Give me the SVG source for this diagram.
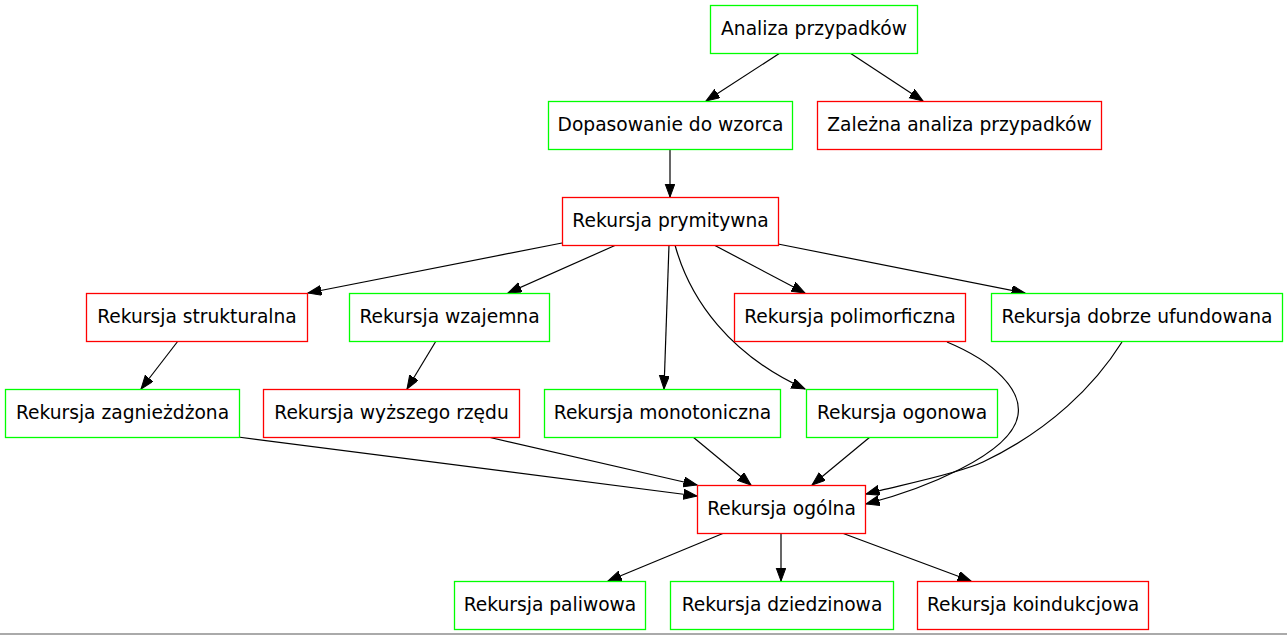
<svg xmlns="http://www.w3.org/2000/svg" width="1287" height="635" viewBox="0 0 1287 635">
<style>
.n rect{fill:#ffffff;stroke-width:1.3}
.g rect{stroke:#00ff00}
.r rect{stroke:#ff0000}
.n text{font-family:"DejaVu Sans",sans-serif;font-size:18.67px;fill:#000;text-anchor:middle}
.e path{fill:none;stroke:#000;stroke-width:1.2;marker-end:url(#ah)}
</style>
<defs>
<marker id="ah" markerUnits="userSpaceOnUse" markerWidth="15" markerHeight="11" refX="13.5" refY="5" orient="auto">
<path d="M0,0 L13.5,5 L0,10 z" fill="#000" stroke="#000" stroke-width="1"/>
</marker>
</defs>
<rect width="1287" height="635" fill="#ffffff"/>
<g id="edges" class="e">
<path d="M780,53 L706,101"/>
<path d="M850,53 L923,101"/>
<path d="M670,149 L670,197"/>
<path d="M562,243 L308,293"/>
<path d="M616,245 L508,293"/>
<path d="M669,245 L664,389"/>
<path d="M675,245 C690,300 730,355 805,389"/>
<path d="M714,245 L805,293"/>
<path d="M778,244 L1025,293"/>
<path d="M178,341 L141,389"/>
<path d="M436,341 L407,389"/>
<path d="M238,437 L697,496"/>
<path d="M488,437 L697,485"/>
<path d="M693,437 L751,485"/>
<path d="M870,437 L812,485"/>
<path d="M947,342 C995,362 1022,390 1018,415 C1012,455 920,490 866,504"/>
<path d="M1122,342 C1095,385 1050,430 983,462 C955,475 895,486 866,494"/>
<path d="M724,533 L608,581"/>
<path d="M781,533 L781,581"/>
<path d="M842,533 L971,581"/>
</g>
<g id="analiza" class="n g"><rect x="710.5" y="5.5" width="207" height="48"/><text x="814" y="34.5">Analiza przypadków</text></g>
<g id="dopasowanie" class="n g"><rect x="548.5" y="101.5" width="244" height="48"/><text x="670.5" y="130.5">Dopasowanie do wzorca</text></g>
<g id="zalezna" class="n r"><rect x="817.5" y="101.5" width="284" height="48"/><text x="959.5" y="130.5">Zależna analiza przypadków</text></g>
<g id="prymitywna" class="n r"><rect x="562.5" y="197.5" width="216" height="48"/><text x="670.5" y="226.5">Rekursja prymitywna</text></g>
<g id="strukturalna" class="n r"><rect x="86.5" y="293.5" width="221" height="48"/><text x="197" y="322.5">Rekursja strukturalna</text></g>
<g id="wzajemna" class="n g"><rect x="349.5" y="293.5" width="200" height="48"/><text x="449.5" y="322.5">Rekursja wzajemna</text></g>
<g id="polimorficzna" class="n r"><rect x="734.5" y="293.5" width="231" height="48"/><text x="850" y="322.5">Rekursja polimorficzna</text></g>
<g id="dobrze" class="n g"><rect x="991.5" y="293.5" width="291" height="48"/><text x="1137" y="322.5">Rekursja dobrze ufundowana</text></g>
<g id="zagniezdzona" class="n g"><rect x="5.5" y="389.5" width="234" height="48"/><text x="122.5" y="418.5">Rekursja zagnieżdżona</text></g>
<g id="wyzszego" class="n r"><rect x="263.5" y="389.5" width="256" height="48"/><text x="391.5" y="418.5">Rekursja wyższego rzędu</text></g>
<g id="monotoniczna" class="n g"><rect x="544.5" y="389.5" width="236" height="48"/><text x="662.5" y="418.5">Rekursja monotoniczna</text></g>
<g id="ogonowa" class="n g"><rect x="806.5" y="389.5" width="191" height="48"/><text x="902" y="418.5">Rekursja ogonowa</text></g>
<g id="ogolna" class="n r"><rect x="697.5" y="485.5" width="168" height="48"/><text x="781.5" y="514.5">Rekursja ogólna</text></g>
<g id="paliwowa" class="n g"><rect x="454.5" y="581.5" width="191" height="48"/><text x="550" y="610.5">Rekursja paliwowa</text></g>
<g id="dziedzinowa" class="n g"><rect x="670.5" y="581.5" width="223" height="48"/><text x="782" y="610.5">Rekursja dziedzinowa</text></g>
<g id="koindukcjowa" class="n r"><rect x="917.5" y="581.5" width="231" height="48"/><text x="1033" y="610.5">Rekursja koindukcjowa</text></g>
<rect x="0" y="633" width="1287" height="2" fill="#aaaaaa"/>
</svg>
